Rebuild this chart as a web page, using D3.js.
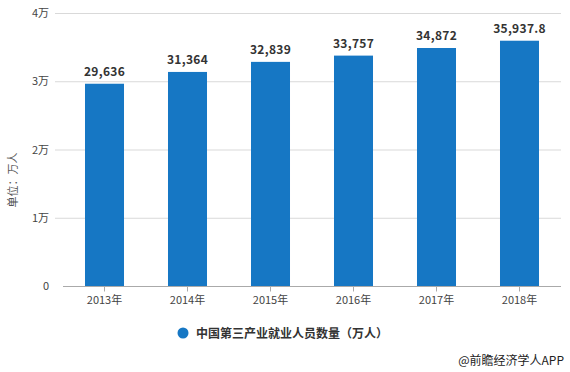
<!DOCTYPE html>
<html>
<head>
<meta charset="utf-8">
<script src="https://cdn.jsdelivr.net/npm/d3@7"></script>
<style>
  body { margin: 0; background: #fff; }
  svg { font-family: "Noto Sans CJK SC", "Microsoft YaHei", sans-serif; }
</style>
</head>
<body>
<svg id="chart" width="570" height="372"></svg>
<script>
// data
const years = ["2013年", "2014年", "2015年", "2016年", "2017年", "2018年"];
const employed = [29636, 31364, 32839, 33757, 34872, 35937.8];
const valueLabels = ["29,636", "31,364", "32,839", "33,757", "34,872", "35,937.8"];
const yTicks = [0, 10000, 20000, 30000, 40000];
const yTickLabels = ["0", "1万", "2万", "3万", "4万"];

let svg = d3.select("#chart");
let gridLeft = 55, plotRight = 561;
let plotTop = 13, plotBottom = 286;

let xScale = d3.scaleBand()
  .domain(years)
  .range([63, plotRight])
  .paddingInner(0.53)
  .paddingOuter(0.265);

let yScale = d3.scaleLinear()
  .domain([0, 40000])
  .range([plotBottom, plotTop]);

// gridlines
svg.append("g").selectAll("line")
  .data(yTicks.slice(1))
  .enter().append("line")
  .attr("x1", gridLeft)
  .attr("x2", plotRight)
  .attr("y1", d => yScale(d) + 0.5)
  .attr("y2", d => yScale(d) + 0.5)
  .attr("stroke", "#d9d9d9");

// y tick labels
svg.append("g").selectAll("text")
  .data(yTicks)
  .enter().append("text")
  .attr("x", 49)
  .attr("y", d => yScale(d) + 4)
  .attr("text-anchor", "end")
  .attr("font-size", 11)
  .attr("fill", "#444")
  .text((d, i) => yTickLabels[i]);

// y title
svg.append("text")
  .attr("transform", "translate(17,180) rotate(-90)")
  .attr("text-anchor", "middle")
  .attr("font-size", 11)
  .attr("fill", "#555")
  .text("单位：万人");

// bars
svg.append("g").selectAll("rect")
  .data(employed)
  .enter().append("rect")
  .attr("x", (d, i) => xScale(years[i]))
  .attr("y", d => yScale(d))
  .attr("width", xScale.bandwidth())
  .attr("height", d => plotBottom - yScale(d))
  .attr("fill", "#1677c4");

// value labels
svg.append("g").selectAll("text")
  .data(employed)
  .enter().append("text")
  .attr("x", (d, i) => xScale(years[i]) + xScale.bandwidth() / 2)
  .attr("y", d => yScale(d) - 8)
  .attr("text-anchor", "middle")
  .attr("font-size", 12)
  .attr("font-weight", "bold")
  .attr("letter-spacing", "0.3px")
  .attr("fill", "#333")
  .text((d, i) => valueLabels[i]);

// x axis
let xAxis = d3.axisBottom(xScale).tickSize(5).tickSizeOuter(0);
let gx = svg.append("g")
  .attr("transform", "translate(0," + (plotBottom + 0.5) + ")")
  .call(xAxis);
gx.select(".domain").attr("stroke", "#aaa").attr("d", "M63,0H" + plotRight);
gx.selectAll(".tick line").attr("stroke", "#aaa");
gx.selectAll("text")
  .attr("font-size", 11)
  .attr("fill", "#444")
  .attr("font-family", "\"Noto Sans CJK SC\", sans-serif")
  .attr("dy", "0.9em");

// legend
svg.append("circle")
  .attr("cx", 183)
  .attr("cy", 333)
  .attr("r", 5.5)
  .attr("fill", "#1677c4");
svg.append("text")
  .attr("x", 196)
  .attr("y", 337.5)
  .attr("font-size", 12)
  .attr("font-weight", "bold")
  .attr("fill", "#333")
  .text("中国第三产业就业人员数量（万人）");

// source
svg.append("text")
  .attr("x", 564)
  .attr("y", 365)
  .attr("text-anchor", "end")
  .attr("font-size", 12)
  .attr("fill", "#222")
  .text("@前瞻经济学人APP");
</script>
</body>
</html>
